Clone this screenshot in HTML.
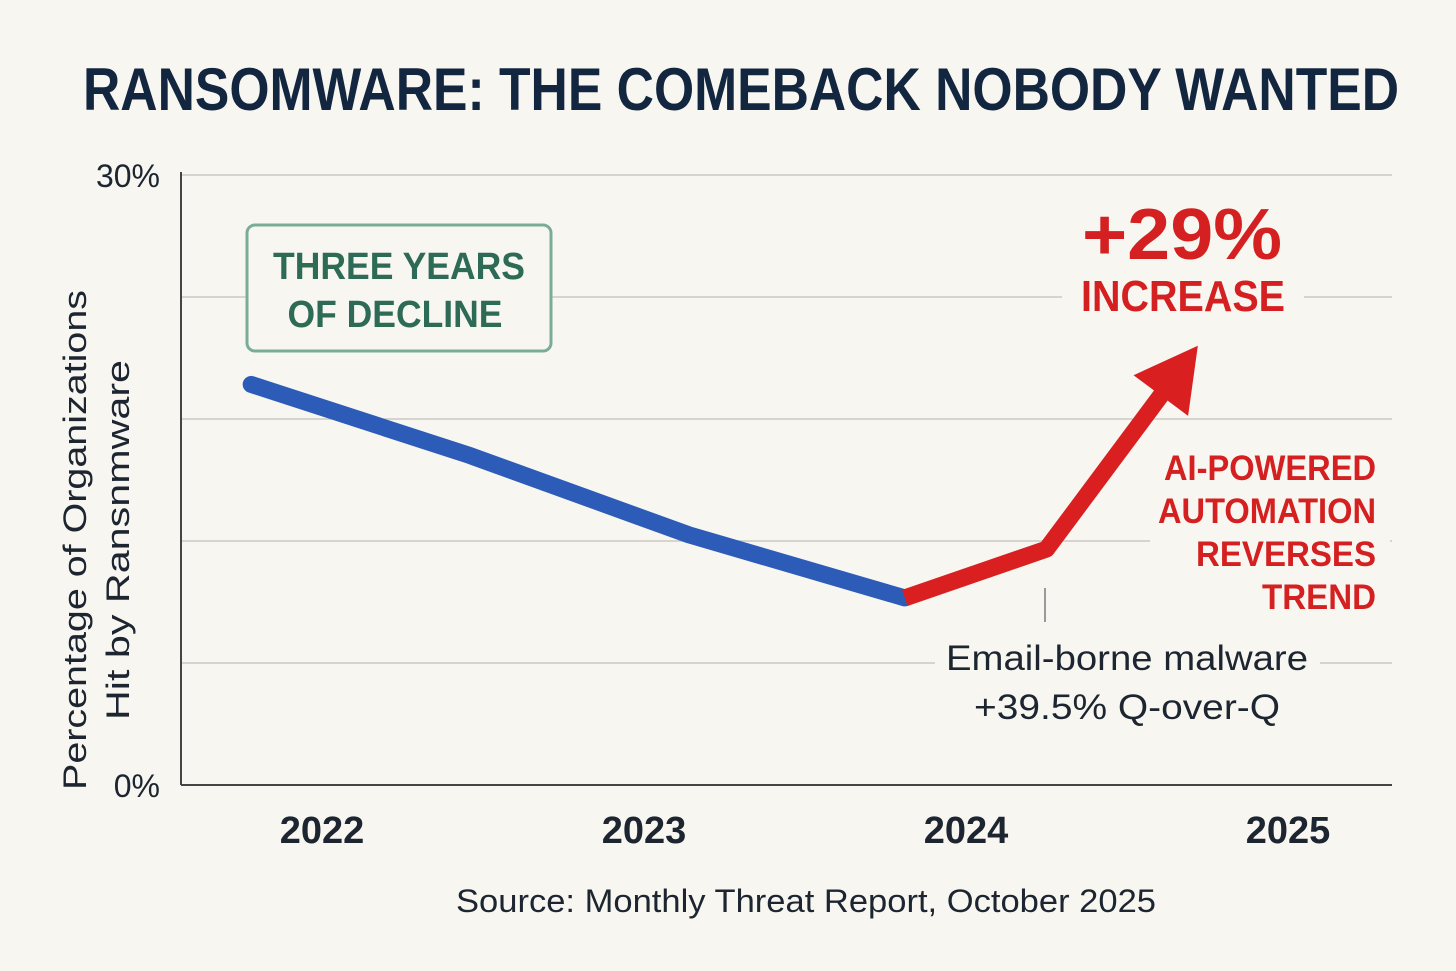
<!DOCTYPE html>
<html><head><meta charset="utf-8"><style>
html,body{margin:0;padding:0;background:#f8f6f1;}
svg{display:block;font-family:"Liberation Sans",sans-serif;}
</style></head><body>
<svg id="chart" width="1456" height="971" viewBox="0 0 1456 971">
<rect width="1456" height="971" fill="#f8f6f1"/>
<text x="741" y="110" text-anchor="middle" font-size="60" font-weight="bold" fill="#132640" textLength="1316" lengthAdjust="spacingAndGlyphs">RANSOMWARE: THE COMEBACK NOBODY WANTED</text>
<g id="grid"></g>
<g id="axes"></g>
<g id="series"></g>
<g id="ann">
<rect x="247" y="225" width="304" height="126" rx="8" fill="#f8f6f1" stroke="#79ad98" stroke-width="3"/>
<text x="399" y="279" text-anchor="middle" font-size="38" font-weight="bold" fill="#2e6b57" textLength="252" lengthAdjust="spacingAndGlyphs">THREE YEARS</text>
<text x="395" y="327" text-anchor="middle" font-size="38" font-weight="bold" fill="#2e6b57" textLength="215" lengthAdjust="spacingAndGlyphs">OF DECLINE</text>
<rect x="1062" y="190" width="242" height="130" fill="#f8f6f1"/>
<text x="1182" y="259" text-anchor="middle" font-size="72" font-weight="bold" fill="#d42020" textLength="200" lengthAdjust="spacingAndGlyphs">+29%</text>
<text x="1183" y="311" text-anchor="middle" font-size="44" font-weight="bold" fill="#d42020" textLength="204" lengthAdjust="spacingAndGlyphs">INCREASE</text>
<rect x="1150" y="440" width="240" height="175" fill="#f8f6f1"/>
<text x="1376" y="480" text-anchor="end" font-size="35" font-weight="bold" fill="#d42020" textLength="212" lengthAdjust="spacingAndGlyphs">AI-POWERED</text>
<text x="1376" y="523" text-anchor="end" font-size="35" font-weight="bold" fill="#d42020" textLength="218" lengthAdjust="spacingAndGlyphs">AUTOMATION</text>
<text x="1376" y="566" text-anchor="end" font-size="35" font-weight="bold" fill="#d42020" textLength="180" lengthAdjust="spacingAndGlyphs">REVERSES</text>
<text x="1376" y="609" text-anchor="end" font-size="35" font-weight="bold" fill="#d42020" textLength="114" lengthAdjust="spacingAndGlyphs">TREND</text>
<line x1="1045" y1="588" x2="1045" y2="622" stroke="#999" stroke-width="2"/>
<rect x="935" y="635" width="385" height="95" fill="#f8f6f1"/>
<text x="1127" y="670" text-anchor="middle" font-size="35" fill="#1c2530" textLength="362" lengthAdjust="spacingAndGlyphs">Email-borne malware</text>
<text x="1127" y="719" text-anchor="middle" font-size="35" fill="#1c2530" textLength="306" lengthAdjust="spacingAndGlyphs">+39.5% Q-over-Q</text>
</g>
<text x="806" y="912" text-anchor="middle" font-size="32" fill="#1c2530" textLength="700" lengthAdjust="spacingAndGlyphs">Source: Monthly Threat Report, October 2025</text>
<g transform="translate(86,540) rotate(-90)">
<text x="0" y="0" text-anchor="middle" font-size="32" fill="#1c2530" textLength="500" lengthAdjust="spacingAndGlyphs">Percentage of Organizations</text>
<text x="0" y="43" text-anchor="middle" font-size="32" fill="#1c2530" textLength="360" lengthAdjust="spacingAndGlyphs">Hit by Ransnmware</text>
</g>
</svg>
<script>
const xYears = [2021.78, 2022.46, 2023.14, 2023.81, 2024.25, 2024.72];
const values = [19.7, 16.2, 12.3, 9.2, 11.6, 21.6];
const declineCount = 4;
const yTickValues = [0, 6, 12, 18, 24, 30];
const yTickLabels = ["0%", "", "", "", "", "30%"];
const xTickYears = [2022, 2023, 2024, 2025];
const xTickLabels = ["2022", "2023", "2024", "2025"];

const NS = "http://www.w3.org/2000/svg";
const X0 = 181, X1 = 1392, Y0 = 785, Y1 = 175;
function xs(t){ return 322 + (t - 2022) * 322; }
function ys(v){ return Y0 - v * (Y0 - Y1) / 30; }
function mk(tag, attrs, parent){ const e = document.createElementNS(NS, tag); for (const k in attrs) e.setAttribute(k, attrs[k]); parent.appendChild(e); return e; }
const grid = document.getElementById('grid'), axes = document.getElementById('axes'), series = document.getElementById('series');

yTickValues.forEach((v, i) => {
  if (v > 0) {
    const l = mk('line', {x1: X0, x2: X1, y1: ys(v), y2: ys(v), stroke: '#c9c9c6', 'stroke-width': 1.5}, grid);
    
    
  }
  if (yTickLabels[i]) {
    const t = mk('text', {x: 160, y: ys(v) + 12, 'text-anchor': 'end', 'font-size': 32, fill: '#1c2530'}, axes);
    t.textContent = yTickLabels[i];
    
    
  }
});
const ya = mk('line', {x1: X0, x2: X0, y1: 172, y2: Y0, stroke: '#444', 'stroke-width': 2}, axes);


const xa = mk('line', {x1: X0, x2: X1, y1: Y0, y2: Y0, stroke: '#444', 'stroke-width': 2}, axes);


xTickYears.forEach((yr, i) => {
  const t = mk('text', {x: xs(yr), y: 843, 'text-anchor': 'middle', 'font-size': 38, 'font-weight': 'bold', fill: '#1c2530'}, axes);
  t.textContent = xTickLabels[i];
  
  
});

const pts = xYears.map((t, i) => [xs(t), ys(values[i])]);
const blue = pts.slice(0, declineCount);
const bl = mk('polyline', {points: blue.map(p => p.join(',')).join(' '), fill: 'none', stroke: '#2d5cb8', 'stroke-width': 17, 'stroke-linecap': 'round', 'stroke-linejoin': 'round'}, series);


const red = pts.slice(declineCount - 1);
const n = red.length;
const tip = red[n - 1], prev = red[n - 2];
const dx = tip[0] - prev[0], dy = tip[1] - prev[1], len = Math.hypot(dx, dy), ux = dx / len, uy = dy / len;
const headLen = 62, headW = 34;
const base = [tip[0] - ux * headLen, tip[1] - uy * headLen];
const redPts = red.slice(0, n - 1).concat([[base[0] + ux * 4, base[1] + uy * 4]]);
const rl = mk('polyline', {points: redPts.map(p => p.join(',')).join(' '), fill: 'none', stroke: '#d91f1f', 'stroke-width': 17, 'stroke-linejoin': 'round'}, series);


const px = -uy, py = ux;
const head = mk('polygon', {points: [tip, [base[0] + px * headW, base[1] + py * headW], [base[0] - px * headW, base[1] - py * headW]].map(p => p.join(',')).join(' '), fill: '#d91f1f'}, series);


</script>
</body></html>
